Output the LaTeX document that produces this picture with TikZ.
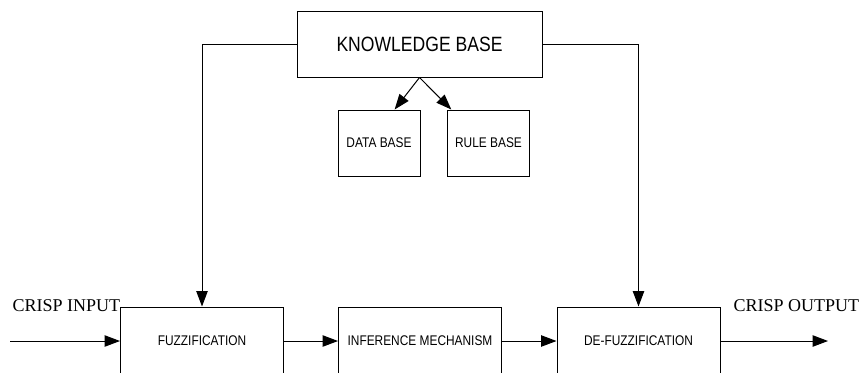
\documentclass[tikz,border=0pt]{standalone}
\usepackage{fontspec}
\setmainfont{Liberation Serif}
\newfontfamily\boxfont[FakeStretch=0.85]{Liberation Sans}
\usetikzlibrary{arrows.meta,positioning}
\tikzstyle{block} = [rectangle,
                    draw=black,
                    line width=0.75pt,
                    inner sep=0pt,
                    font=\boxfont\fontsize{10.5}{12}\selectfont]
\tikzstyle{smallblock} = [block,
                    minimum width=82*0.75pt,
                    minimum height=66*0.75pt]
\tikzstyle{bigblock} = [block,
                    minimum width=163*0.75pt,
                    minimum height=68*0.75pt]
\tikzstyle{crisp} = [inner sep=0pt,
                    anchor=base west,
                    font=\fontsize{13.5}{16}\selectfont]
\tikzstyle{control} = [x=0.75pt,
                      y=-0.75pt,
                      line width=0.75pt,
                      >={Triangle[length=11.5pt,width=8.5pt]}]

\begin{document}
\begin{tikzpicture}[control]
    \useasboundingbox (0,0) rectangle (859,372);
    \clip (0,0) rectangle (859,372);
    \node (kb) at (419.5,44) [block, minimum width=245*0.75pt, minimum height=66*0.75pt,
      font=\boxfont\fontsize{15.5}{18}\selectfont] {KNOWLEDGE BASE};
    \node (db) at (379,143) [smallblock] {DATA BASE};
    \node (rb) at (488.5,143) [smallblock] {RULE BASE};
    \node (fuz) at (202,341) [bigblock] {FUZZIFICATION};
    \node (inf) at (420,341) [bigblock] {INFERENCE MECHANISM};
    \node (def) at (638.5,341) [bigblock] {DE-FUZZIFICATION};
    \node (in) at (12,311) [crisp] {CRISP INPUT};
    \node (out) at (733,311) [crisp] {CRISP OUTPUT};
    \coordinate (src) at (10,341);
    \coordinate (snk) at (828,341);
    % knowledge base feeds both ends
    \draw[->] (kb.west) -| (fuz.north);
    \draw[->] (kb.east) -| (def.north);
    \path[->]
      (kb.south) edge (db.65)
      (kb.south) edge (rb.138)
      (src) edge (fuz)
      (fuz) edge (inf)
      (inf) edge (def)
      (def.east) edge (snk);
\end{tikzpicture}
\end{document}
